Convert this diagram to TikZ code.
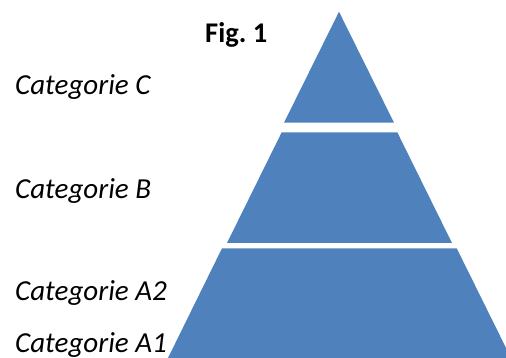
\documentclass[tikz,border=0pt]{standalone}
\usepackage{fontspec}
\setmainfont{Carlito}
\begin{document}
\begin{tikzpicture}[x=1pt,y=-1pt,
  tier/.style={fill=tierblue,draw=none},
  cat/.style={anchor=base west,inner sep=0pt,font=\fontsize{29}{32}\selectfont\itshape},
  figlabel/.style={anchor=base west,inner sep=0pt,font=\fontsize{28.5}{32}\selectfont\bfseries}]
\definecolor{tierblue}{HTML}{4F81BD}
\useasboundingbox (0,0) rectangle (506,358);
\clip (0,0) rectangle (506,358);
\fill[tier] (339,11.7) -- (394,122.7) -- (284,122.7) -- cycle;
\fill[tier] (281.7,132.3) -- (397.3,132.3) -- (452,243) -- (227,243) -- cycle;
\fill[tier] (222,248.3) -- (456.7,248.3) -- (512,360) -- (167,360) -- cycle;
\node[figlabel] (fig) at (205,42.3) {Fig.\ 1};
\node[cat] (c) at (15,94.3) {Categorie C};
\node[cat] (b) at (15,198.3) {Categorie B};
\node[cat] (a2) at (15,300.7) {Categorie A2};
\node[cat] (a1) at (15,352) {Categorie A1};
\end{tikzpicture}
\end{document}
